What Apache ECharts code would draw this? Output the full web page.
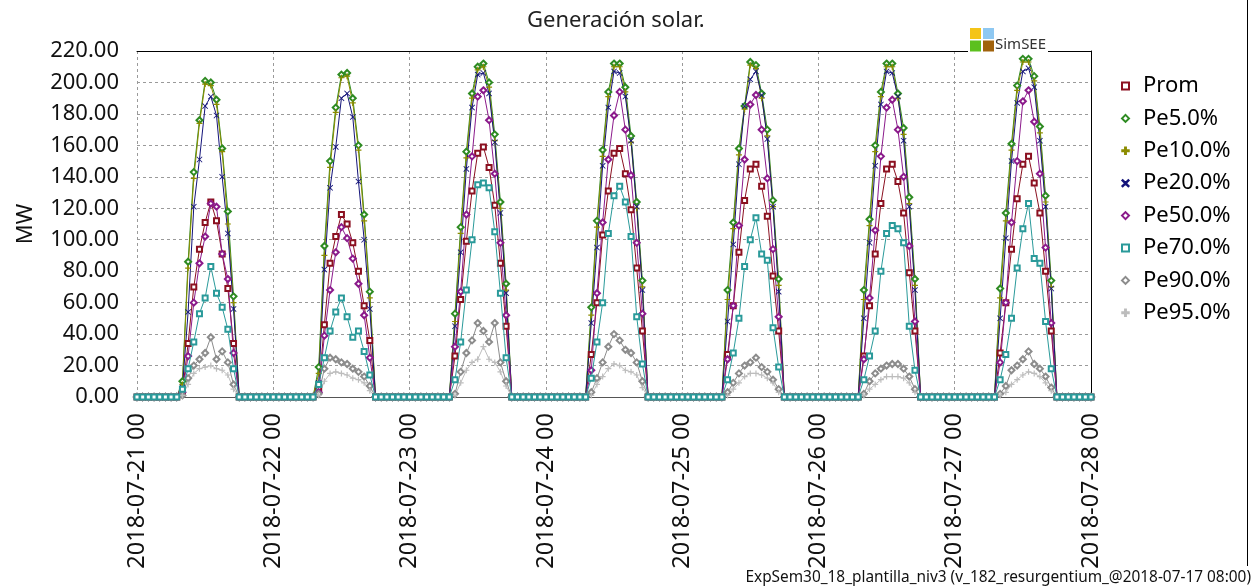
<!DOCTYPE html>
<html>
<head>
<meta charset="utf-8">
<script src="https://cdn.jsdelivr.net/npm/echarts/dist/echarts.min.js"></script>
<style>
html,body{margin:0;padding:0;background:#fff;}
#chart{width:1255px;height:586px;}
</style>
</head>
<body>
<div id="chart"></div>
<script>
// ---- tick labels ----
const dayLabels = ['2018-07-21 00','2018-07-22 00','2018-07-23 00','2018-07-24 00','2018-07-25 00','2018-07-26 00','2018-07-27 00','2018-07-28 00'];
const seriesNames = ['Prom','Pe5.0%','Pe10.0%','Pe20.0%','Pe50.0%','Pe70.0%','Pe90.0%','Pe95.0%'];
// hours of the day (08..17) with non-zero generation; all other hours read 0
const sunHours = [8,9,10,11,12,13,14,15,16,17];

// ---- values (MW) per day for hours 08..17 ----
const prom = [
  [3, 34, 70, 94, 111, 124, 112, 91, 69, 34],
  [6, 46, 85, 102, 116, 110, 98, 80, 58, 36],
  [26, 62, 99, 131, 155, 159, 146, 122, 85, 45],
  [27, 60, 103, 131, 155, 158, 142, 119, 82, 42],
  [27, 58, 92, 125, 145, 148, 134, 115, 77, 42],
  [26, 58, 91, 123, 145, 148, 137, 117, 79, 42],
  [28, 60, 94, 126, 148, 153, 136, 117, 80, 42]
];
const pe5 = [
  [10, 86, 143, 176, 201, 200, 189, 158, 118, 64],
  [19, 96, 150, 184, 205, 206, 190, 160, 116, 67],
  [53, 108, 156, 193, 210, 212, 200, 167, 124, 72],
  [57, 112, 157, 194, 212, 212, 197, 166, 124, 74],
  [68, 111, 158, 185, 213, 211, 193, 170, 125, 75],
  [68, 113, 160, 194, 212, 212, 193, 171, 127, 75],
  [69, 117, 161, 198, 215, 215, 204, 172, 128, 74]
];
const pe10 = [
  [8, 82, 139, 174, 199, 198, 186, 156, 110, 60],
  [15, 90, 146, 181, 203, 204, 187, 157, 112, 63],
  [48, 104, 152, 190, 208, 210, 197, 163, 120, 68],
  [52, 108, 153, 191, 210, 210, 194, 162, 120, 70],
  [62, 107, 154, 183, 211, 209, 190, 166, 121, 71],
  [62, 109, 156, 191, 210, 210, 190, 167, 123, 71],
  [63, 112, 157, 195, 213, 213, 201, 168, 124, 70]
];
const pe20 = [
  [6, 54, 121, 151, 185, 191, 179, 140, 104, 56],
  [9, 81, 133, 159, 190, 193, 178, 137, 100, 56],
  [45, 92, 145, 184, 205, 206, 193, 162, 117, 66],
  [47, 95, 147, 184, 207, 206, 191, 163, 121, 68],
  [48, 97, 148, 185, 202, 207, 192, 164, 121, 67],
  [50, 98, 147, 186, 207, 206, 191, 163, 121, 68],
  [50, 101, 150, 187, 207, 209, 197, 163, 121, 69]
];
const pe50 = [
  [3, 26, 60, 85, 102, 123, 121, 91, 75, 28],
  [3, 39, 68, 92, 108, 101, 88, 72, 52, 25],
  [32, 67, 116, 153, 191, 195, 176, 142, 98, 52],
  [17, 66, 111, 151, 179, 194, 170, 141, 98, 53],
  [24, 58, 109, 151, 186, 192, 170, 139, 94, 51],
  [24, 63, 106, 153, 184, 189, 170, 140, 96, 48],
  [22, 60, 111, 150, 188, 195, 175, 142, 95, 47]
];
const pe70 = [
  [5, 18, 35, 53, 63, 83, 66, 57, 43, 18],
  [8, 25, 42, 54, 63, 51, 38, 42, 29, 14],
  [11, 35, 68, 100, 135, 136, 133, 105, 66, 25],
  [12, 35, 60, 104, 128, 134, 124, 102, 51, 21],
  [11, 28, 50, 83, 100, 114, 91, 87, 44, 19],
  [11, 26, 42, 80, 104, 109, 107, 98, 45, 17],
  [11, 27, 50, 82, 107, 123, 88, 85, 48, 18]
];
const pe90 = [
  [1, 12, 20, 24, 28, 38, 24, 29, 22, 8],
  [2, 18, 25, 24, 22, 21, 18, 16, 13, 7],
  [2, 16, 28, 36, 47, 42, 35, 47, 22, 10],
  [3, 12, 22, 32, 40, 36, 30, 28, 22, 10],
  [3, 9, 15, 20, 22, 25, 19, 16, 11, 5],
  [2, 10, 15, 18, 20, 21, 21, 18, 13, 5],
  [2, 7, 17, 20, 24, 29, 21, 18, 13, 6]
];
const pe95 = [
  [1, 8, 15, 18, 19, 20, 18, 17, 14, 5],
  [1, 10, 15, 16, 15, 14, 12, 11, 9, 4],
  [1, 9, 17, 22, 24, 32, 24, 22, 16, 7],
  [1, 8, 13, 18, 21, 20, 17, 16, 14, 6],
  [1, 5, 9, 13, 15, 15, 14, 12, 9, 3],
  [1, 5, 8, 11, 13, 13, 13, 12, 9, 3],
  [1, 3, 8, 11, 14, 16, 15, 13, 9, 4]
];
const footnote = 'ExpSem30_18_plantilla_niv3 (v_182_resurgentium_@2018-07-17 08:00)';

// ---- build hourly series (hour index, MW) ----
function hourly(days) {
  const out = [];
  for (let d = 0; d < days.length; d++) {
    for (let h = 0; h < 24; h++) {
      const k = sunHours.indexOf(h);
      out.push([d * 24 + h, k >= 0 ? days[d][k] : 0]);
    }
  }
  out.push([days.length * 24, 0]);
  return out;
}

const PLUS = 'path://M4,0H6V4H10V6H6V10H4V6H0V4H4Z';
const CROSS = 'path://M1,0L5,4L9,0L10,1L6,5L10,9L9,10L5,6L1,10L0,9L4,5L0,1Z';
const styles = [
  {color:'#8b1020', symbol:'emptyRect', size:5, bw:1, z:2},
  {color:'#2e8b22', symbol:'emptyDiamond', size:6, bw:1, z:2},
  {color:'#8c8c00', symbol:PLUS, size:6, bw:0, z:2},
  {color:'#14147a', symbol:CROSS, size:6, bw:0, z:2},
  {color:'#8b1a8b', symbol:'emptyDiamond', size:6, bw:1, z:2},
  {color:'#2a9a9a', symbol:'emptyRect', size:5, bw:1, z:4},
  {color:'#8c8c8c', symbol:'emptyDiamond', size:6, bw:1, z:2},
  {color:'#bdbdbd', symbol:PLUS, size:6, bw:0, z:2}
];
const allData = [prom, pe5, pe10, pe20, pe50, pe70, pe90, pe95];

const FONT = 'Noto Sans';
const series = allData.map((d, i) => ({
  name: seriesNames[i],
  type: 'line',
  xAxisIndex: 0, yAxisIndex: 0,
  data: hourly(d),
  symbol: styles[i].symbol,
  symbolSize: styles[i].size,
  showSymbol: true,
  z: styles[i].z,
  lineStyle: {color: styles[i].color, width: 1},
  itemStyle: {color: styles[i].color, borderColor: styles[i].color, borderWidth: styles[i].bw},
  emphasis: {disabled: true},
  silent: true
}));

const chart = echarts.init(document.getElementById('chart'), null, {renderer: 'canvas'});
chart.setOption({
  animation: false,
  backgroundColor: '#fff',
  title: {
    text: 'Generación solar.',
    left: 522, top: 5,
    textStyle: {fontFamily: FONT, fontSize: 22, fontWeight: 'normal', color: '#222'}
  },
  legend: {
    orient: 'vertical',
    left: 1116, top: 70,
    itemWidth: 7, itemHeight: 7,
    itemGap: 10.4,
    data: seriesNames.map((n, i) => ({name: n, icon: styles[i].symbol})),
    itemStyle: {borderWidth: 1.5},
    textStyle: {fontFamily: FONT, fontSize: 22, color: '#000', lineHeight: 22, padding: [0, 0, 0, 9]},
    selectedMode: false
  },
  grid: {left: 137, right: 164, top: 51, bottom: 189, containLabel: false, outerBoundsMode: 'none'},
  xAxis: [{
    type: 'value', min: 0, max: 168, interval: 24,
    axisLine: {show: true, lineStyle: {color: '#555', width: 1}},
    axisTick: {show: false},
    axisLabel: {
      rotate: 90, margin: 16, fontFamily: FONT, fontSize: 23.5, color: '#111',
      showMinLabel: true, showMaxLabel: true, hideOverlap: false,
      formatter: v => dayLabels[Math.round(v / 24)]
    },
    splitLine: {show: true, lineStyle: {color: '#9a9a9a', type: [3, 3], width: 1}}
  }, {
    type: 'value', min: 0, max: 168, position: 'top',
    axisLine: {show: true, onZero: false, lineStyle: {color: '#000', width: 1}},
    axisTick: {show: false}, axisLabel: {show: false}, splitLine: {show: false}
  }],
  yAxis: [{
    type: 'value', min: 0, max: 220, interval: 20,
    name: 'MW', nameLocation: 'middle', nameGap: 100, nameRotate: 90,
    nameTextStyle: {fontFamily: FONT, fontSize: 22, color: '#111'},
    axisLine: {show: false},
    axisTick: {show: false},
    axisLabel: {margin: 18, fontFamily: FONT, fontSize: 22, color: '#111', formatter: v => v.toFixed(2)},
    splitLine: {show: true, lineStyle: {color: '#9a9a9a', type: [3, 3], width: 1}}
  }, {
    type: 'value', min: 0, max: 220, position: 'right',
    axisLine: {show: true, onZero: false, lineStyle: {color: '#000', width: 1}},
    axisTick: {show: false}, axisLabel: {show: false}, splitLine: {show: false}
  }],
  graphic: [
    {type: 'rect', shape: {x: 968, y: 48, width: 80, height: 6}, style: {fill: '#fff'}, z: 100},
    {type: 'rect', shape: {x: 970, y: 28, width: 11, height: 11}, style: {fill: '#f4c418'}, z: 101},
    {type: 'rect', shape: {x: 983, y: 28, width: 11, height: 11}, style: {fill: '#8ec8f2'}, z: 101},
    {type: 'rect', shape: {x: 970, y: 40.5, width: 11, height: 11}, style: {fill: '#5cc01e'}, z: 101},
    {type: 'rect', shape: {x: 983, y: 40.5, width: 11, height: 11}, style: {fill: '#a0620c'}, z: 101},
    {type: 'text', x: 995, y: 45, style: {text: 'SimSEE', fontFamily: FONT, fontSize: 15, fill: '#333', textVerticalAlign: 'middle', verticalAlign: 'middle'}, z: 101},
    {type: 'line', shape: {x1: 1247.5, y1: 0, x2: 1247.5, y2: 566}, style: {stroke: '#000', lineWidth: 1}, z: 101},
    {type: 'text', x: 1251, y: 578, style: {text: footnote, fontFamily: FONT, fontSize: 15.4, fill: '#111', textAlign: 'right', align: 'right', textVerticalAlign: 'middle', verticalAlign: 'middle'}, z: 101}
  ],
  series: series
});
</script>
</body>
</html>
